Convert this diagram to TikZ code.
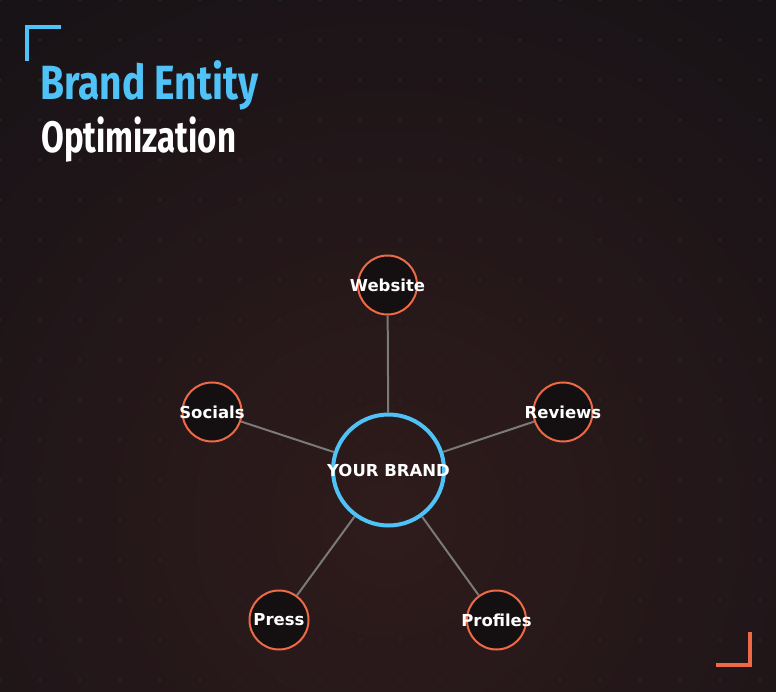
\documentclass[tikz,border=0pt]{standalone}
\usepackage{fontspec}
\newfontfamily\titlefont[FakeStretch=0.81]{Fira Sans}
\newfontfamily\subtitlefont[FakeStretch=0.75]{Fira Sans}
\newfontfamily\lblfont{DejaVu Sans}
\definecolor{bgc}{HTML}{121116}
\definecolor{glow}{HTML}{2F1B1B}
\definecolor{dotc}{HTML}{2A2930}
\definecolor{cyanc}{HTML}{4FC3F7}
\definecolor{orangec}{HTML}{EE6A47}
\definecolor{satfill}{HTML}{141011}
\definecolor{linec}{HTML}{7A7A7A}
\begin{document}
\begin{tikzpicture}[x=1pt,y=-1pt,
  sat/.style={circle,draw=orangec,line width=2pt,fill=satfill,minimum size=59pt,inner sep=0pt},
  hub/.style={circle,draw=cyanc,line width=4pt,minimum size=111pt,inner sep=0pt},
  lbl/.style={text=white,font=\lblfont\bfseries\fontsize{16.5}{19}\selectfont,inner sep=0pt},
  conn/.style={draw=linec,line width=2pt},
  bracket/.style={line width=3.5pt}
]
\useasboundingbox (0,0) rectangle (776,692);
\fill[bgc] (0,0) rectangle (776,692);
\begin{scope}
\clip (0,0) rectangle (776,692);
\fill[inner color=glow,outer color=bgc] (388,520) circle (780);
\foreach \i in {0,...,19}{\foreach \j in {0,...,17}{\fill[dotc] (40*\i,40*\j) circle (1.3);}}
\end{scope}
% brackets
\draw[bracket,cyanc] (61,27) -- (27,27) -- (27,61);
\draw[bracket,orangec] (750,632) -- (750,665) -- (716,665);
% title
\node[anchor=base west,inner sep=0pt,text=cyanc,font=\titlefont\bfseries\fontsize{48}{50}\selectfont] (t1) at (40,100) {Brand Entity};
\node[anchor=base west,inner sep=0pt,text=white,font=\subtitlefont\bfseries\fontsize{44}{46}\selectfont] (t2) at (41,153) {Optimization};
% nodes
\node[hub,label={[lbl]center:YOUR BRAND}] (c) at (388.5,470) {};
\node[sat,label={[lbl]center:Website}] (w) at (387.5,285) {};
\node[sat,label={[lbl]center:Socials}] (s) at (212,412) {};
\node[sat,label={[lbl]center:Reviews}] (r) at (563,412) {};
\node[sat,label={[lbl]center:Press}] (p) at (279,620) {};
\node[sat,label={[lbl]center:Profiles}] (f) at (496.5,620) {};
\draw[conn] (c) -- (w);
\draw[conn] (c) -- (s);
\draw[conn] (c) -- (r);
\draw[conn] (c) -- (p);
\draw[conn] (c) -- (f);
\end{tikzpicture}
\end{document}
